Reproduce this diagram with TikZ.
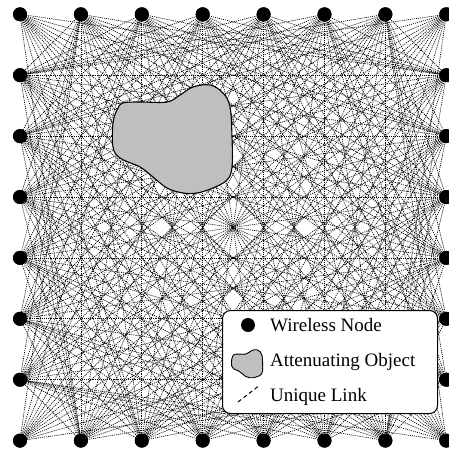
\documentclass[tikz,border=0pt]{standalone}
\usepackage{fontspec}
\setmainfont{Liberation Serif}
\tikzset{
  wn/.style={circle, fill=black, inner sep=0pt, minimum size=14pt},
  link/.style={dash pattern=on 1.1pt off 1pt, line width=0.65pt, black},
  blobstyle/.style={fill=black!25, draw=black, line width=1.1pt},
  legendbox/.style={draw=black, fill=white, rounded corners=8pt, line width=1pt},
  legtext/.style={anchor=base west, font=\fontsize{19}{22}\selectfont, inner sep=0pt},
}
\def\blobpath{plot[smooth cycle, tension=0.6] coordinates {
 (123,103) (140,102) (167,102) (180,95) (193,87) (210,85) (223,93) (230,107)
 (232,137) (232,167) (227,180) (213,188) (197,193) (183,193) (167,188) (153,177)
 (140,167) (120,158) (113,147) (113,123) (117,110)}}
\begin{document}
\begin{tikzpicture}[x=1pt,y=-1pt]
\useasboundingbox (0,0) rectangle (449,453);
\def\perim{0/0,1/0,2/0,3/0,4/0,5/0,6/0,7/0,7/1,7/2,7/3,7/4,7/5,7/6,7/7,6/7,5/7,4/7,3/7,2/7,1/7,0/7,0/6,0/5,0/4,0/3,0/2,0/1}
% nodes
\foreach \a/\b in \perim {
  \node[wn] (n\a\b) at ({20+60.9*\a},{14.3+60.9*\b}) {};
}
% links
\foreach \a/\b [count=\k] in \perim {
  \foreach \c/\d [count=\l] in \perim {
    \ifnum\l>\k
      \pgfmathtruncatemacro\same{((\a==\c)&&((\a==0)||(\a==7)))||((\b==\d)&&((\b==0)||(\b==7)))}
      \ifnum\same=0
        \draw[link] (n\a\b.center) -- (n\c\d.center);
      \fi
    \fi
  }
}
% redraw nodes on top
\foreach \a/\b in \perim {
  \fill (n\a\b) circle (7pt);
}
% attenuating object
\draw[blobstyle] \blobpath;
% legend
\node[legendbox, minimum width=215pt, minimum height=103pt, anchor=north west] (legend) at (222,310) {};
\node[wn] (lgdot) at (248,325) {};
\node[legtext] (lgt1) at (270,331) {Wireless Node};
\begin{scope}[shift={(247,364)}, scale=0.26, shift={(-172,-140)}]
  \draw[fill=black!25, draw=black, line width=0.9pt] \blobpath;
\end{scope}
\coordinate (lgblob) at (247,364);
\node[legtext] (lgt2) at (270,366) {Attenuating Object};
\coordinate (lk1) at (238,402);
\coordinate (lk2) at (260,385);
\draw[dashed, line width=1pt, dash pattern=on 4pt off 3pt] (lk1) -- (lk2);
\node[legtext] (lgt3) at (270,401) {Unique Link};
\end{tikzpicture}
\end{document}
